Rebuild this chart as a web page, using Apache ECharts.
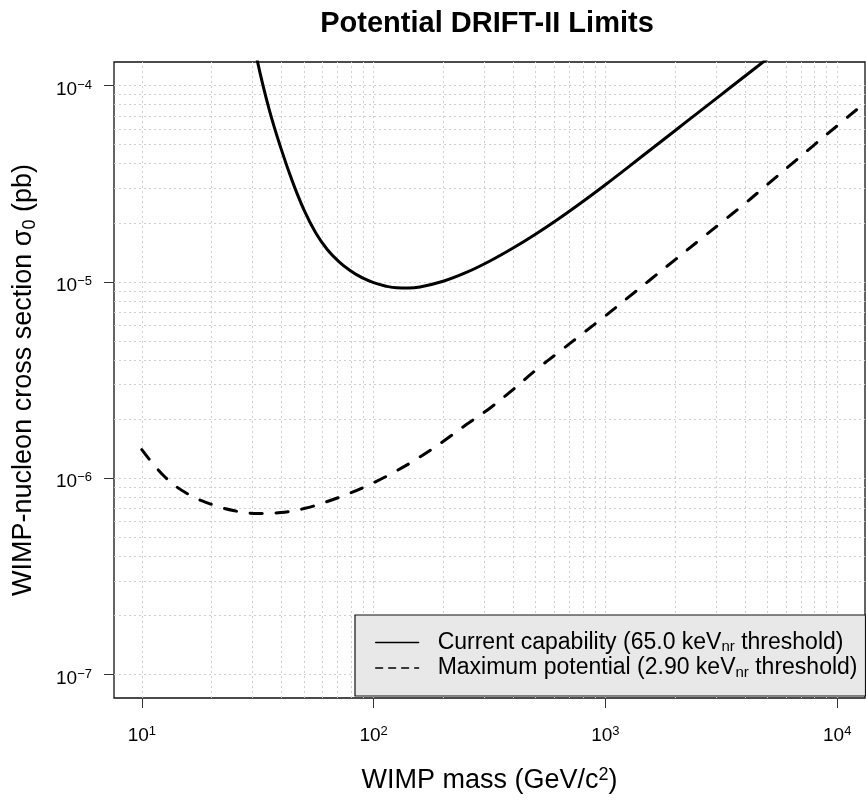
<!DOCTYPE html>
<html>
<head>
<meta charset="utf-8">
<script src="https://cdn.jsdelivr.net/npm/echarts@6/dist/echarts.min.js"></script>
<style>
html,body{margin:0;padding:0;background:#fff;}
#chart{width:866px;height:800px;}
</style>
</head>
<body>
<div id="chart"></div>
<script>
// ---- data ----
const titleText = 'Potential DRIFT-II Limits';
const xTickValues = [10, 100, 1000, 10000];
const yTickValues = [1e-7, 1e-6, 1e-5, 1e-4];

// Current capability (65.0 keVnr threshold) — solid
const massCurrent  = [28.18, 31.62, 35.48, 39.81, 44.67, 50.12, 56.23, 63.10, 70.79, 79.43, 89.13, 100, 112.2, 125.9, 141.3, 158.5, 199.5, 251.2, 316.2, 398.1, 501.2, 631.0, 794.3, 1000, 1259, 1585, 1995, 2512, 3162, 3981, 5012, 6310];
const sigmaCurrent = [2.69e-4, 1.313e-4, 7.52e-5, 4.80e-5, 3.24e-5, 2.32e-5, 1.78e-5, 1.462e-5, 1.268e-5, 1.139e-5, 1.050e-5, 9.91e-6, 9.53e-6, 9.32e-6, 9.30e-6, 9.42e-6, 1.007e-5, 1.117e-5, 1.274e-5, 1.483e-5, 1.754e-5, 2.104e-5, 2.553e-5, 3.126e-5, 3.855e-5, 4.764e-5, 5.888e-5, 7.278e-5, 8.995e-5, 1.112e-4, 1.374e-4, 1.698e-4];

// Maximum potential (2.90 keVnr threshold) — dashed
const massMaximum  = [10, 12.59, 15.85, 19.95, 25.12, 31.62, 39.81, 50.12, 63.10, 79.43, 100, 125.9, 158.5, 199.5, 251.2, 316.2, 398.1, 501.2, 631.0, 794.3, 1000, 1259, 1585, 1995, 2512, 3162, 3981, 5012, 6310, 7943, 10000, 12589, 15849];
const sigmaMaximum = [1.396e-6, 1.014e-6, 8.28e-7, 7.36e-7, 6.82e-7, 6.61e-7, 6.68e-7, 7.00e-7, 7.60e-7, 8.41e-7, 9.48e-7, 1.091e-6, 1.282e-6, 1.538e-6, 1.875e-6, 2.265e-6, 2.818e-6, 3.556e-6, 4.395e-6, 5.433e-6, 6.714e-6, 8.356e-6, 1.040e-5, 1.294e-5, 1.611e-5, 2.004e-5, 2.495e-5, 3.141e-5, 3.954e-5, 4.977e-5, 6.237e-5, 7.816e-5, 9.77e-5];

const seriesNames = ['Current capability', 'Maximum potential'];
const thresholds = ['65.0', '2.90'];

// ---- build ----
const FONT = '"Liberation Sans", Arial, Helvetica, sans-serif';
const pair = (xs, ys) => xs.map((x, i) => [x, ys[i]]);
const X_MIN = Math.pow(10, 0.88), X_MAX = Math.pow(10, 4.12);
const Y_MIN = Math.pow(10, -7.12), Y_MAX = Math.pow(10, -3.88);

// dotted grid at 1..9 x 10^k
const gridX = [];
for (let e = 1; e <= 4; e++) for (let k = 1; k <= 9; k++) { const v = k * Math.pow(10, e); if (v <= 10000) gridX.push(v); }
const gridY = [];
for (let e = -7; e <= -4; e++) for (let k = 1; k <= 9; k++) { const v = k * Math.pow(10, e); if (v <= 1.0001e-4) gridY.push(v); }

const isPow = v => { const e = Math.log10(v); return Math.abs(e - Math.round(e)) < 1e-6; };
const supLabel = v => {
  const e = Math.round(Math.log10(v));
  return '{b|10}{s|' + String(e).replace('-', '\u2212') + '}';
};
const labelRich = {
  b: { fontSize: 19, lineHeight: 22, fontFamily: FONT, color: '#000' },
  s: { fontSize: 13, lineHeight: 13, fontFamily: FONT, color: '#000', verticalAlign: 'top' }
};
const gridLineStyle = { color: '#cfcfcf', type: [2, 3], width: 1 };

const chart = echarts.init(document.getElementById('chart'), null, { renderer: 'canvas' });
chart.setOption({
  animation: false,
  backgroundColor: '#fff',
  title: {
    text: titleText,
    left: 482, top: 4, textAlign: 'center',
    textStyle: { fontFamily: FONT, fontWeight: 'bold', fontSize: 29, color: '#000' }
  },
  grid: {
    left: 114, top: 62, width: 751, height: 636,
    show: true, borderColor: '#111', borderWidth: 1.3, backgroundColor: 'transparent'
  },
  legend: {
    orient: 'vertical',
    left: 355, top: 615, z: 10,
    padding: [16, 8, 16, 20],
    backgroundColor: '#e8e8e8',
    borderColor: '#111', borderWidth: 1.2, borderRadius: 0,
    itemWidth: 43, itemHeight: 14, itemGap: 2,
    selectedMode: false,
    itemStyle: { opacity: 0, borderWidth: 0 },
    data: [
      { name: seriesNames[0], lineStyle: { width: 1.3, type: 'solid', color: '#000' } },
      { name: seriesNames[1], lineStyle: { width: 1.3, type: [7, 6], color: '#000' } }
    ],
    formatter: name => {
      const i = seriesNames.indexOf(name);
      return '{g|}{t|' + name + ' (' + thresholds[i] + ' keV}{u|nr}{t| threshold)}';
    },
    textStyle: {
      fontFamily: FONT, fontSize: 23, color: '#000',
      rich: {
        g: { width: 14 },
        t: { fontFamily: FONT, fontSize: 23, lineHeight: 24, color: '#000' },
        u: { fontFamily: FONT, fontSize: 15, lineHeight: 11, color: '#000', verticalAlign: 'bottom' }
      }
    }
  },
  xAxis: {
    type: 'log', logBase: 10,
    min: X_MIN, max: X_MAX,
    axisLine: { show: false },
    axisTick: { show: true, inside: false, length: 10, customValues: xTickValues, lineStyle: { color: '#333', width: 1 } },
    axisLabel: {
      show: true, margin: 27, customValues: xTickValues,
      formatter: v => isPow(v) ? supLabel(v) : '',
      rich: labelRich
    },
    splitLine: { show: false },
    minorTick: { show: false },
    name: '{a|WIMP mass (GeV/c}{s|2}{a|)}',
    nameLocation: 'middle', nameGap: 68,
    nameTextStyle: {
      rich: {
        a: { fontFamily: FONT, fontSize: 27, lineHeight: 30, color: '#000' },
        s: { fontFamily: FONT, fontSize: 18, lineHeight: 17, color: '#000', verticalAlign: 'top' }
      }
    }
  },
  yAxis: {
    type: 'log', logBase: 10,
    min: Y_MIN, max: Y_MAX,
    axisLine: { show: false },
    axisTick: { show: true, inside: false, length: 10, customValues: yTickValues, lineStyle: { color: '#333', width: 1 } },
    axisLabel: {
      show: true, margin: 22, customValues: yTickValues,
      padding: [8, 0, 0, 0],
      formatter: v => isPow(v) ? supLabel(v) : '',
      rich: labelRich
    },
    splitLine: { show: false },
    minorTick: { show: false },
    name: '{a|WIMP-nucleon cross section \u03C3}{u|0}{a| (pb)}',
    nameLocation: 'middle', nameGap: 75,
    nameTextStyle: {
      rich: {
        a: { fontFamily: FONT, fontSize: 27, lineHeight: 30, color: '#000' },
        u: { fontFamily: FONT, fontSize: 18, lineHeight: 12, color: '#000', verticalAlign: 'bottom' }
      }
    }
  },
  series: [
    {
      name: 'gridX', type: 'line', data: [], z: 1, silent: true,
      markLine: {
        z: 1, silent: true, symbol: ['none', 'none'], animation: false,
        label: { show: false }, lineStyle: gridLineStyle,
        emphasis: { disabled: true },
        data: gridX.map(v => ({ xAxis: v }))
      }
    },
    {
      name: 'gridY', type: 'line', data: [], z: 1, silent: true,
      markLine: {
        z: 1, silent: true, symbol: ['none', 'none'], animation: false,
        label: { show: false }, lineStyle: gridLineStyle,
        emphasis: { disabled: true },
        data: gridY.map(v => [{ coord: [X_MIN, v] }, { coord: [X_MAX, v] }])
      }
    },
    {
      name: seriesNames[0], type: 'line', z: 3,
      data: pair(massCurrent, sigmaCurrent),
      showSymbol: false, symbol: 'none', smooth: 0.4, clip: true,
      lineStyle: { color: '#000', width: 3, cap: 'round', join: 'round' },
      itemStyle: { color: '#000' }
    },
    {
      name: seriesNames[1], type: 'line', z: 3,
      data: pair(massMaximum, sigmaMaximum),
      showSymbol: false, symbol: 'none', smooth: 0.4, clip: true,
      lineStyle: { color: '#000', width: 3, type: [12, 14], cap: 'round', join: 'round' },
      itemStyle: { color: '#000' }
    }
  ]
});
</script>
</body>
</html>
